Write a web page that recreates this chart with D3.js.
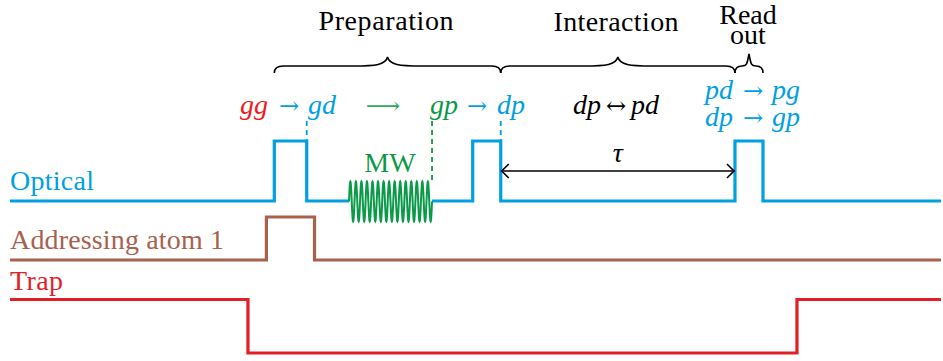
<!DOCTYPE html>
<html><head><meta charset="utf-8">
<script src="https://cdn.jsdelivr.net/npm/d3@7"></script>
<style>
html,body{margin:0;padding:0;background:#fff;}
</style></head>
<body><svg id="c" width="943" height="361"></svg>
<script>
// ---- data (time in arbitrary units 0..100) ----
const opticalTimes  = [0, 28.39, 31.87, 49.70, 52.71, 77.87, 80.88, 100];
const opticalLevels = [0, 1, 0, 1, 0, 1, 0, 0];
const addrTimes  = [0, 27.54, 32.71, 100];
const addrLevels = [0, 1, 0, 0];
const trapTimes  = [0, 25.56, 84.53, 100];
const trapLevels = [1, 0, 1, 1];
const mwStart = 36.41, mwEnd = 45.33, mwCycles = 15;
const markerTimes = [31.87, 45.33, 52.71];
const phaseNames = ["Preparation", "Interaction", "Read|out"];
const phaseBounds = [[28.39, 52.71], [52.71, 77.87], [77.87, 80.88]];
const tauBounds = [52.71, 77.87];
const channelNames = ["Optical", "Addressing atom 1", "Trap"];

const SERIF = "serif";
const ARROWF = "DejaVu Serif";
const C = {blue:"#00a0e3", brown:"#a8614d", red:"#e31e26", green:"#0b9a48", lgreen:"#2fa85c", black:"#000"};
const svg = d3.select("#c");
const x = d3.scaleLinear().domain([0,100]).range([10, 941]);

// channel layouts (pixel)
const yOpt  = d3.scaleLinear().domain([0,1]).range([201, 141]);
const yAddr = d3.scaleLinear().domain([0,1]).range([260, 217]);
const yTrap = d3.scaleLinear().domain([0,1]).range([353, 299.5]);

function stepLine(times, levels, ys, color){
  const pts = times.map((t,i)=>[t, levels[i]]);
  svg.append("path").datum(pts)
    .attr("d", d3.line().x(d=>x(d[0])).y(d=>ys(d[1])).curve(d3.curveStepAfter))
    .attr("fill","none").attr("stroke",color).attr("stroke-width",3.2)
    .attr("stroke-linejoin","miter");
}
stepLine(opticalTimes, opticalLevels, yOpt, C.blue);
stepLine(addrTimes, addrLevels, yAddr, C.brown);
stepLine(trapTimes, trapLevels, yTrap, C.red);

// hide optical line under MW wave
svg.append("line").attr("x1", x(mwStart)).attr("x2", x(mwEnd))
  .attr("y1", yOpt(0)).attr("y2", yOpt(0)).attr("stroke","#fff").attr("stroke-width",4);

// MW wave
const mwPts = d3.range(0, 1.0001, 1/600).map(f => [mwStart + f*(mwEnd-mwStart), Math.sin(2*Math.PI*mwCycles*f)]);
const yMw = d3.scaleLinear().domain([-1,1]).range([221.5, 181.5]);
svg.append("path").datum(mwPts)
  .attr("d", d3.line().x(d=>x(d[0])).y(d=>yMw(d[1])))
  .attr("fill","none").attr("stroke",C.green).attr("stroke-width",2);

// dashed markers
const markerColors = [C.blue, C.green, C.blue];
const markerBottoms = [yOpt(1), yMw(1), yOpt(1)];
markerTimes.forEach((t,i)=>{
  svg.append("line").attr("x1",x(t)).attr("x2",x(t))
    .attr("y1",121).attr("y2",markerBottoms[i])
    .attr("stroke",markerColors[i]).attr("stroke-width",1.8)
    .attr("stroke-dasharray","5,4");
});

// braces
function brace(x0, x1, yb, yh, ytip){
  const m = (x0+x1)/2, w = x1-x0;
  const r = Math.min(9, w/4), s = Math.min(34, w/2 - r);
  return `M${x0},${yb} Q${x0},${yh} ${x0+r},${yh} L${m-s},${yh} C${m-s*0.35},${yh} ${m-2},${yh-1} ${m},${ytip}`+
         ` C${m+2},${yh-1} ${m+s*0.35},${yh} ${m+s},${yh} L${x1-r},${yh} Q${x1},${yh} ${x1},${yb}`;
}
phaseBounds.forEach((b,i)=>{
  const small = (x(b[1])-x(b[0])) < 60;
  svg.append("path").attr("d", brace(x(b[0]), x(b[1]), 73, 66, small ? 54 : 57))
    .attr("fill","none").attr("stroke","#000").attr("stroke-width",1.6);
});

const fs = 28;
function txt(str, cx, y, color, opts){
  opts = opts || {};
  const t = svg.append("text").attr("x",cx).attr("y",y)
    .attr("text-anchor",opts.anchor||"middle")
    .attr("font-family", opts.family||SERIF).attr("font-size",opts.size||fs)
    .attr("fill",color||"#000").text(str);
  if (opts.italic) t.attr("font-style","italic");
  if (opts.len) t.attr("textLength",opts.len).attr("lengthAdjust","spacing");
  return t;
}

// phase titles
txt(phaseNames[0], 386, 30, "#000", {len:135});
txt(phaseNames[1], 616, 31, "#000", {len:125});
const ro = phaseNames[2].split("|");
const roT = svg.append("text").attr("text-anchor","middle").attr("font-family",SERIF).attr("font-size",fs);
roT.append("tspan").attr("x",748).attr("y",24).text(ro[0]);
roT.append("tspan").attr("x",748).attr("y",44).text(ro[1]);

// math labels
function mt(str, cx, y, color){ txt(str, cx, y, color, {italic:true}); }
function arr(str, cx, y, color, size){ txt(str, cx, y, color, {family:ARROWF, size:size||24}); }
mt("gg", 254, 114, "#f01a1a");
arr("→", 289, 114, C.blue);
mt("gd", 322, 114, C.blue);
arr("⟶", 383, 114, C.lgreen);
mt("gp", 444, 114, C.green);
arr("→", 477, 114, C.blue);
mt("dp", 511, 114, C.blue);

mt("dp", 587, 114, "#000");
arr("↔", 616, 114, "#000");
mt("pd", 645, 114, "#000");

// read-out transitions: one text block, two lines
const rdLines = [["pd","pg",99],["dp","gp",126]];
const rdT = svg.append("text").attr("text-anchor","middle")
  .attr("font-family",SERIF).attr("font-size",fs).attr("fill",C.blue);
rdLines.forEach(l=>{
  rdT.append("tspan").attr("x",719).attr("y",l[2]).attr("font-style","italic").text(l[0]);
  rdT.append("tspan").attr("x",753).attr("y",l[2]).attr("font-family",ARROWF).attr("font-size",24).text("→");
  rdT.append("tspan").attr("x",786).attr("y",l[2]).attr("font-style","italic").text(l[1]);
});

// MW label
txt("MW", 390, 172, C.green);

// tau arrow
const ty = 171, xa = x(tauBounds[0]), xb = x(tauBounds[1]);
svg.append("line").attr("x1",xa).attr("x2",xb).attr("y1",ty).attr("y2",ty).attr("stroke","#000").attr("stroke-width",1.6);
svg.append("path").attr("d",`M${xa+8},${ty-7} L${xa+1},${ty} L${xa+8},${ty+7} M${xb-8},${ty-7} L${xb-1},${ty} L${xb-8},${ty+7}`)
  .attr("fill","none").attr("stroke","#000").attr("stroke-width",1.6);
mt("τ", (xa+xb)/2, 162, "#000");

// channel labels
const chColors = [C.blue, C.brown, C.red];
const chY = [190, 249, 290];
const chLen = [84, 214, 53];
channelNames.forEach((n,i)=>{ txt(n, 10, chY[i], chColors[i], {anchor:"start", len:chLen[i]}); });
</script></body></html>
